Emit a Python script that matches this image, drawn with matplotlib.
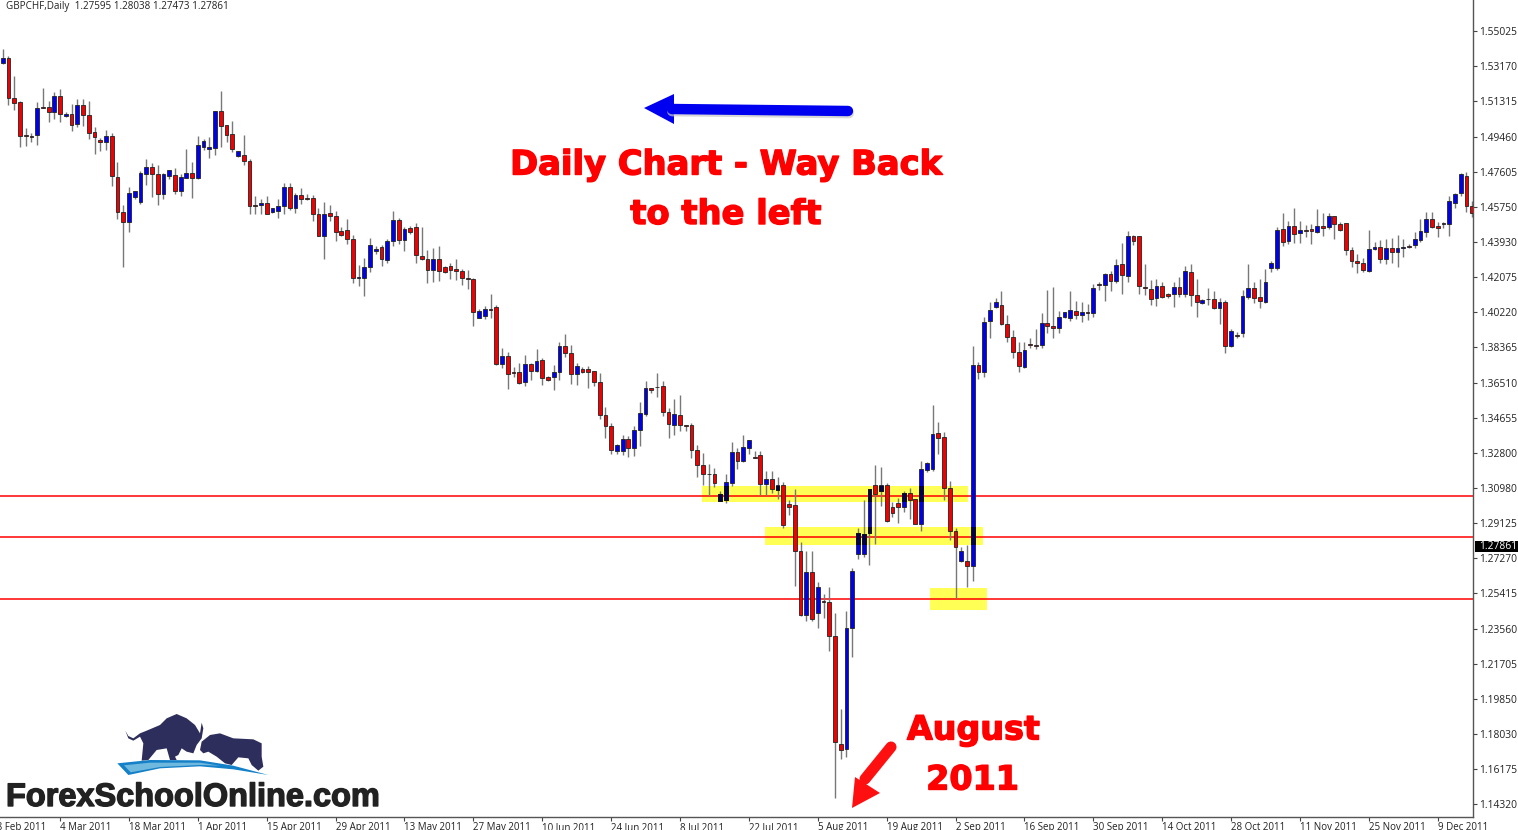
import matplotlib
matplotlib.use("Agg")
import matplotlib.pyplot as plt
import matplotlib.patheffects as pe
from matplotlib.patches import Polygon, Rectangle

opens = [
1.5336,1.5362,1.5152,1.5127,1.4957,1.4950,1.4955,1.5104,1.5104,1.5078,
1.5162,1.5057,1.5065,1.5013,1.5113,1.5058,1.4969,1.4927,1.4920,1.4948,
1.4734,1.4548,1.4495,1.4630,1.4600,1.4748,1.4785,1.4749,1.4646,1.4739,
1.4746,1.4660,1.4728,1.4756,1.4728,1.4892,1.4879,1.4888,1.5081,1.5007,
1.4958,1.4842,1.4848,1.4818,1.4584,1.4584,1.4595,1.4551,1.4556,1.4581,
1.4681,1.4572,1.4641,1.4621,1.4623,1.4537,1.4421,1.4542,1.4530,1.4449,
1.4453,1.4409,1.4200,1.4204,1.4261,1.4344,1.4367,1.4298,1.4397,1.4507,
1.4400,1.4465,1.4469,1.4318,1.4302,1.4246,1.4300,1.4261,1.4265,1.4249,
1.4239,1.4200,1.4198,1.3993,1.4002,1.4038,1.4047,1.3751,1.3789,1.3709,
1.3707,1.3652,1.3747,1.3712,1.3772,1.3679,1.3682,1.3709,1.3844,1.3805,
1.3694,1.3721,1.3721,1.3710,1.3652,1.3482,1.3424,1.3289,1.3289,1.3352,
1.3305,1.3400,1.3486,1.3623,1.3630,1.3635,1.3498,1.3426,1.3482,1.3426,
1.3426,1.3294,1.3217,1.3171,1.3170,1.3029,1.3031,1.3120,1.3287,1.3236,
1.3308,1.3261,1.3270,1.3117,1.3143,1.3085,1.3113,1.3013,1.3006,1.2766,
1.2427,1.2652,1.2436,1.2503,1.2497,1.2317,1.1746,1.1723,1.2359,1.2747,
1.2748,1.2857,1.3113,1.3078,1.3113,1.2998,1.3015,1.2994,1.3068,1.3036,
1.2908,1.3191,1.3194,1.3386,1.3363,1.3098,1.2870,1.2713,1.2713,1.2685,
1.3745,1.3709,1.3974,1.4051,1.4058,1.3960,1.3891,1.3812,1.3735,1.3854,
1.3851,1.3849,1.3967,1.3947,1.3940,1.3998,1.3993,1.4028,1.4007,1.4021,
1.4016,1.4170,1.4163,1.4223,1.4186,1.4274,1.4212,1.4425,1.4423,1.4156,
1.4144,1.4095,1.4160,1.4119,1.4118,1.4156,1.4118,1.4232,1.4110,1.4072,
1.4093,1.4091,1.4042,1.4077,1.3844,1.3902,1.3914,1.4103,1.4149,1.4102,
1.4075,1.4254,1.4256,1.4462,1.4397,1.4476,1.4437,1.4455,1.4460,1.4444,
1.4476,1.4469,1.4526,1.4484,1.4490,1.4347,1.4291,1.4281,1.4240,1.4354,
1.4367,1.4302,1.4360,1.4337,1.4360,1.4370,1.4377,1.4402,1.4442,1.4511,
1.4474,1.4491,1.4488,1.4595,1.4648,1.4737,1.4583]

closes = [
1.5362,1.5148,1.5125,1.4948,1.4951,1.4944,1.5097,1.5099,1.5078,1.5160,
1.5065,1.5065,1.5009,1.5113,1.5058,1.4967,1.4944,1.4920,1.4948,1.4737,
1.4548,1.4495,1.4651,1.4658,1.4753,1.4785,1.4748,1.4646,1.4749,1.4771,
1.4662,1.4732,1.4756,1.4728,1.4904,1.4925,1.4890,1.5083,1.5004,1.4955,
1.4879,1.4871,1.4816,1.4579,1.4581,1.4595,1.4537,1.4569,1.4579,1.4681,
1.4572,1.4641,1.4616,1.4618,1.4537,1.4421,1.4541,1.4530,1.4446,1.4428,
1.4409,1.4202,1.4209,1.4258,1.4377,1.4353,1.4304,1.4397,1.4507,1.4400,
1.4458,1.4444,1.4321,1.4302,1.4244,1.4300,1.4239,1.4235,1.4246,1.4240,
1.4200,1.4197,1.4021,1.4026,1.4038,1.4035,1.3751,1.3789,1.3694,1.3703,
1.3649,1.3747,1.3712,1.3766,1.3675,1.3665,1.3709,1.3844,1.3809,1.3694,
1.3738,1.3709,1.3709,1.3652,1.3482,1.3422,1.3298,1.3321,1.3352,1.3305,
1.3400,1.3491,1.3623,1.3614,1.3626,1.3498,1.3433,1.3484,1.3429,1.3422,
1.3294,1.3215,1.3170,1.3168,1.3120,1.3064,1.3127,1.3287,1.3236,1.3310,
1.3347,1.3256,1.3117,1.3143,1.3091,1.3113,1.2899,1.2998,1.2766,1.2427,
1.2652,1.2408,1.2576,1.2497,1.2317,1.1760,1.1718,1.2360,1.2657,1.2861,
1.2852,1.3092,1.3066,1.3113,1.2920,1.2966,1.2998,1.3068,1.3033,1.2908,
1.3196,1.3228,1.3382,1.3361,1.3098,1.2871,1.2785,1.2762,1.2685,1.3742,
1.3709,1.3972,1.4035,1.4077,1.3958,1.3889,1.3812,1.3737,1.3823,1.3851,
1.3845,1.3967,1.3949,1.3940,1.3996,1.4023,1.4032,1.4005,1.4021,1.4016,
1.4147,1.4167,1.4221,1.4188,1.4268,1.4218,1.4421,1.4397,1.4160,1.4151,
1.4091,1.4160,1.4102,1.4109,1.4156,1.4118,1.4240,1.4112,1.4075,1.4084,
1.4089,1.4046,1.4075,1.3845,1.3923,1.3896,1.4107,1.4148,1.4098,1.4081,
1.4182,1.4281,1.4455,1.4393,1.4476,1.4433,1.4455,1.4449,1.4449,1.4477,
1.4465,1.4526,1.4484,1.4456,1.4349,1.4291,1.4279,1.4242,1.4356,1.4367,
1.4302,1.4358,1.4337,1.4360,1.4367,1.4363,1.4409,1.4447,1.4511,1.4472,
1.4467,1.4484,1.4605,1.4644,1.4749,1.4583,1.4546]

highs = [
1.5406,1.5373,1.5265,1.5136,1.4990,1.4967,1.5129,1.5204,1.5132,1.5183,
1.5195,1.5074,1.5120,1.5143,1.5143,1.5132,1.4999,1.4941,1.4979,1.4964,
1.4811,1.4586,1.4683,1.4662,1.4767,1.4827,1.4807,1.4799,1.4755,1.4772,
1.4781,1.4749,1.4879,1.4811,1.4950,1.4932,1.4943,1.5083,1.5187,1.5007,
1.5030,1.4872,1.4955,1.4830,1.4634,1.4616,1.4632,1.4572,1.4618,1.4704,
1.4704,1.4648,1.4678,1.4644,1.4639,1.4569,1.4602,1.4588,1.4556,1.4469,
1.4511,1.4426,1.4270,1.4307,1.4412,1.4370,1.4374,1.4409,1.4553,1.4516,
1.4470,1.4477,1.4490,1.4470,1.4347,1.4361,1.4368,1.4267,1.4283,1.4300,
1.4247,1.4242,1.4200,1.4040,1.4054,1.4119,1.4061,1.3835,1.3810,1.3735,
1.3752,1.3798,1.3756,1.3826,1.3779,1.3686,1.3744,1.3865,1.3907,1.3847,
1.3752,1.3731,1.3738,1.3714,1.3703,1.3524,1.3436,1.3328,1.3377,1.3368,
1.3422,1.3547,1.3659,1.3624,1.3700,1.3658,1.3515,1.3566,1.3586,1.3426,
1.3440,1.3324,1.3278,1.3221,1.3203,1.3078,1.3170,1.3340,1.3305,1.3375,
1.3349,1.3291,1.3293,1.3185,1.3185,1.3156,1.3127,1.3033,1.3091,1.2812,
1.2766,1.2762,1.2603,1.2536,1.2576,1.2436,1.1930,1.2450,1.2676,1.2883,
1.3033,1.3092,1.3215,1.3208,1.3120,1.3024,1.3041,1.3082,1.3096,1.3036,
1.3240,1.3235,1.3533,1.3442,1.3391,1.3133,1.2883,1.2787,1.2796,1.3844,
1.3761,1.3998,1.4077,1.4095,1.4132,1.4009,1.3930,1.3867,1.3867,1.3884,
1.3931,1.4019,1.4139,1.4153,1.4028,1.4025,1.4133,1.4081,1.4075,1.4063,
1.4170,1.4182,1.4226,1.4240,1.4304,1.4388,1.4449,1.4428,1.4425,1.4274,
1.4189,1.4198,1.4182,1.4125,1.4179,1.4207,1.4265,1.4277,1.4195,1.4091,
1.4149,1.4132,1.4098,1.4086,1.3933,1.3919,1.4139,1.4276,1.4182,1.4196,
1.4249,1.4291,1.4472,1.4546,1.4504,1.4572,1.4502,1.4481,1.4484,1.4563,
1.4546,1.4542,1.4528,1.4495,1.4493,1.4363,1.4326,1.4305,1.4455,1.4391,
1.4402,1.4409,1.4414,1.4426,1.4405,1.4379,1.4442,1.4511,1.4551,1.4551,
1.4497,1.4498,1.4634,1.4651,1.4753,1.4762,1.4605]

lows = [
1.5329,1.5113,1.5086,1.4890,1.4897,1.4916,1.4902,1.5095,1.5023,1.5037,
1.5023,1.5048,1.4978,1.4995,1.5002,1.4934,1.4853,1.4872,1.4876,1.4686,
1.4513,1.4261,1.4442,1.4620,1.4593,1.4690,1.4630,1.4586,1.4616,1.4721,
1.4642,1.4635,1.4727,1.4623,1.4721,1.4876,1.4835,1.4850,1.4892,1.4916,
1.4864,1.4841,1.4799,1.4539,1.4541,1.4537,1.4537,1.4546,1.4516,1.4537,
1.4560,1.4546,1.4593,1.4614,1.4502,1.4421,1.4302,1.4502,1.4398,1.4425,
1.4381,1.4177,1.4158,1.4109,1.4235,1.4326,1.4267,1.4281,1.4369,1.4379,
1.4344,1.4435,1.4283,1.4295,1.4174,1.4182,1.4184,1.4226,1.4197,1.4191,
1.4165,1.4146,1.3947,1.3989,1.3984,1.3989,1.3744,1.3730,1.3617,1.3682,
1.3645,1.3633,1.3663,1.3709,1.3637,1.3659,1.3614,1.3663,1.3784,1.3644,
1.3638,1.3703,1.3624,1.3635,1.3457,1.3357,1.3273,1.3273,1.3270,1.3261,
1.3266,1.3319,1.3477,1.3598,1.3573,1.3475,1.3357,1.3377,1.3398,1.3394,
1.3252,1.3156,1.3112,1.3054,1.3101,1.3026,1.3019,1.3106,1.3198,1.3231,
1.3275,1.3252,1.3057,1.3057,1.3068,1.3040,1.2885,1.2954,1.2580,1.2422,
1.2395,1.2397,1.2360,1.2413,1.2239,1.1462,1.1669,1.1681,1.2208,1.2724,
1.2731,1.2689,1.2799,1.3001,1.2917,1.2945,1.2910,1.2971,1.2934,1.2905,
1.2871,1.3182,1.3187,1.3273,1.3033,1.2822,1.2518,1.2708,1.2576,1.2606,
1.3668,1.3682,1.3888,1.4044,1.3953,1.3865,1.3782,1.3705,1.3730,1.3831,
1.3830,1.3831,1.3914,1.3884,1.3910,1.3993,1.3977,1.3988,1.3972,1.3981,
1.3995,1.4140,1.4082,1.4132,1.4174,1.4119,1.4181,1.4377,1.4119,1.4114,
1.4061,1.4054,1.4095,1.4095,1.4049,1.4100,1.4100,1.4054,1.3995,1.4067,
1.4060,1.4040,1.3961,1.3807,1.3838,1.3886,1.3891,1.4091,1.4070,1.4045,
1.4070,1.4235,1.4244,1.4370,1.4381,1.4388,1.4388,1.4419,1.4379,1.4440,
1.4423,1.4462,1.4405,1.4451,1.4321,1.4258,1.4226,1.4235,1.4235,1.4349,
1.4282,1.4275,1.4279,1.4261,1.4314,1.4361,1.4358,1.4393,1.4416,1.4463,
1.4416,1.4467,1.4425,1.4572,1.4633,1.4547,1.4525]

price_ticks = [1.55025,1.53170,1.51315,1.49460,1.47605,1.45750,1.43930,1.42075,
               1.40220,1.38365,1.36510,1.34655,1.32800,1.30980,1.29125,1.27270,
               1.25415,1.23560,1.21705,1.19850,1.18030,1.16175,1.14320]
date_labels = ["18 Feb 2011","4 Mar 2011","18 Mar 2011","1 Apr 2011","15 Apr 2011",
               "29 Apr 2011","13 May 2011","27 May 2011","10 Jun 2011","24 Jun 2011",
               "8 Jul 2011","22 Jul 2011","5 Aug 2011","19 Aug 2011","2 Sep 2011",
               "16 Sep 2011","30 Sep 2011","14 Oct 2011","28 Oct 2011","11 Nov 2011",
               "25 Nov 2011","9 Dec 2011"]
date_positions = list(range(-2, 251, 12))
level_lines = [1.30564, 1.28405, 1.25140]
zones = [(121.8, 168.2, 1.30238, 1.31064),
         (132.8, 170.8, 1.27957, 1.28889),
         (161.5, 171.5, 1.24535, 1.25693)]
last_price = 1.27861
header = "GBPCHF,Daily  1.27595 1.28038 1.27473 1.27861"

n = min(len(opens), len(closes), len(highs), len(lows))
idx = list(range(n))

W, H = 1518, 830
fig = plt.figure(figsize=(W / 100, H / 100), dpi=100, facecolor="white")
ax = fig.add_axes([0, 13 / H, 1473 / W, 817 / H])
XLIM = (-0.47, 256.15)
YLIM = (1.13634, 1.56657)
for s in ("top", "left"):
    ax.spines[s].set_visible(False)
for s in ("right", "bottom"):
    ax.spines[s].set_color("#555555")
    ax.spines[s].set_linewidth(1.0)

tick_font = dict(family="Open Sans", size=7, color="#222222")
ax.yaxis.tick_right()
ax.set_yticks(price_ticks)
ax.set_yticklabels([f"{p:.5f}" for p in price_ticks], family="Open Sans", size=7.4, color="#222222")
ax.tick_params(axis="y", length=3, width=0.8, color="#444444", pad=1.2)
ax.set_xticks(date_positions)
ax.set_xticklabels(date_labels, ha="left", **tick_font)
ax.tick_params(axis="x", length=3, width=0.8, color="#444444", pad=0.6)

zone_patches = []
for x0, x1, y0, y1 in zones:
    r = Rectangle((x0, y0), x1 - x0, y1 - y0, facecolor="#FFFF55", edgecolor="none", zorder=1)
    ax.add_patch(r)
    zone_patches.append(r)
for lv in level_lines:
    ax.axhline(lv, color="#FF0000", lw=1.1, zorder=1.5)

ax.vlines(idx, lows[:n], highs[:n], color="#787878", lw=1.0, zorder=2)
bottoms = [min(opens[i], closes[i]) for i in idx]
heights = [abs(opens[i] - closes[i]) for i in idx]
colors = ["#0000F0" if closes[i] >= opens[i] else "#F00000" for i in idx]
ax.bar(idx, heights, bottom=bottoms, width=0.66, color=colors,
       edgecolor="#222222", linewidth=0.6, zorder=3)

# blue bodies darken where they pass through the highlighter zones
up = [i for i in idx if closes[i] >= opens[i]]
for r in zone_patches:
    x0, x1 = r.get_x(), r.get_x() + r.get_width()
    sel = [i for i in up if x0 <= i <= x1]
    bars = ax.bar(sel, [heights[i] for i in sel], bottom=[bottoms[i] for i in sel],
                  width=0.66, color="#00005a", edgecolor="#111111", linewidth=0.6, zorder=3.1)
    for b in bars:
        b.set_clip_path(r)

# limits last: set_xticks would otherwise widen the view to the first label's tick
ax.set_xlim(*XLIM)
ax.set_ylim(*YLIM)

# first date falls left of the view, so its label hangs off the figure edge
ax.annotate(date_labels[0], xy=(date_positions[0], 0), xycoords=("data", "axes fraction"),
            xytext=(0, -3.6), textcoords="offset points", ha="left", va="top",
            annotation_clip=False, **tick_font)

# current price tag
ax.add_patch(Rectangle((1.0013, last_price - 0.0029), 0.04, 0.0058,
                       transform=ax.get_yaxis_transform(), facecolor="black",
                       edgecolor="none", clip_on=False, zorder=6))
ax.annotate(f"{last_price:.5f}", xy=(1.0, last_price), xycoords=("axes fraction", "data"),
            xytext=(4.3, 0), textcoords="offset points", va="center", ha="left",
            family="Open Sans", size=7.4, color="white", annotation_clip=False, zorder=7)

fig.text(6 / W, 1 - 6.5 / H, header, family="Open Sans", size=7.15, color="#222222",
         ha="left", va="center")


def fx(x):
    return x / W


def fy(y):
    return 1 - y / H


def px_poly(pts, **kw):
    p = Polygon([(fx(x), fy(y)) for x, y in pts], closed=True, transform=fig.transFigure,
                edgecolor="none", **kw)
    fig.add_artist(p)


def px_line(p0, p1, **kw):
    fig.add_artist(plt.Line2D([fx(p0[0]), fx(p1[0])], [fy(p0[1]), fy(p1[1])],
                              transform=fig.transFigure, solid_capstyle="round", **kw))


# annotations
heavy = [pe.withStroke(linewidth=1.0, foreground="#FF0000")]
red_font = dict(family="DejaVu Sans", weight="bold", color="#FF0000", ha="center", va="center",
                path_effects=heavy)
fig.text(fx(726.5), fy(165), "Daily Chart - Way Back", size=24.3, **red_font)
fig.text(fx(726), fy(214.5), "to the left", size=24.3, **red_font)
fig.text(fx(973.5), fy(730), "August", size=24, **red_font)
fig.text(fx(972.5), fy(780), "2011", size=24, **red_font)

# blue arrow
px_line((672, 111.5), (849, 113.5), color="#c8c8c8", lw=7, alpha=0.7)
px_line((672, 109), (848, 111), color="#0000F0", lw=7.5)
px_poly([(644, 108), (674, 94), (674, 124)], facecolor="#0000F0")

# red arrow
px_line((865, 779), (891, 747), color="#FF1010", lw=8)
px_poly([(852, 808), (855, 777), (880, 793)], facecolor="#FF1010")

# logo
z = lambda pts: [(x / 3, 700 + y / 3) for x, y in pts]
navy = "#2E2E5C"
px_poly(z([(376, 92), (385, 108), (400, 115), (420, 100), (440, 92), (480, 75), (500, 55),
           (530, 42), (560, 55), (585, 75), (600, 100), (605, 68), (610, 85), (605, 115),
           (590, 135), (580, 160), (560, 155), (545, 145), (535, 165), (525, 170), (530, 180),
           (510, 180), (500, 145), (470, 150), (445, 180), (425, 182), (430, 130), (420, 110),
           (400, 122), (385, 115)]), facecolor=navy)
px_poly(z([(600, 150), (605, 125), (630, 105), (660, 100), (700, 115), (760, 118), (785, 130),
           (785, 170), (790, 200), (775, 212), (755, 195), (745, 175), (715, 172), (695, 195),
           (675, 190), (650, 170), (625, 155), (610, 160)]), facecolor=navy)
px_poly(z([(352, 190), (450, 180), (600, 181), (700, 197), (805, 225), (700, 208), (600, 199),
           (480, 205), (385, 225)]), facecolor="#1480C8")
px_poly(z([(372, 196), (450, 188), (600, 188), (660, 197), (600, 195), (480, 201), (392, 217)]),
        facecolor="#6FB9DF")
fig.text(fx(6), fy(798), "ForexSchoolOnline.com", family="Liberation Sans", weight="bold",
         size=23.4, color="#222222", ha="left", va="center",
         path_effects=[pe.withStroke(linewidth=1.0, foreground="#222222")])

fig.savefig("out.png", dpi=100)
